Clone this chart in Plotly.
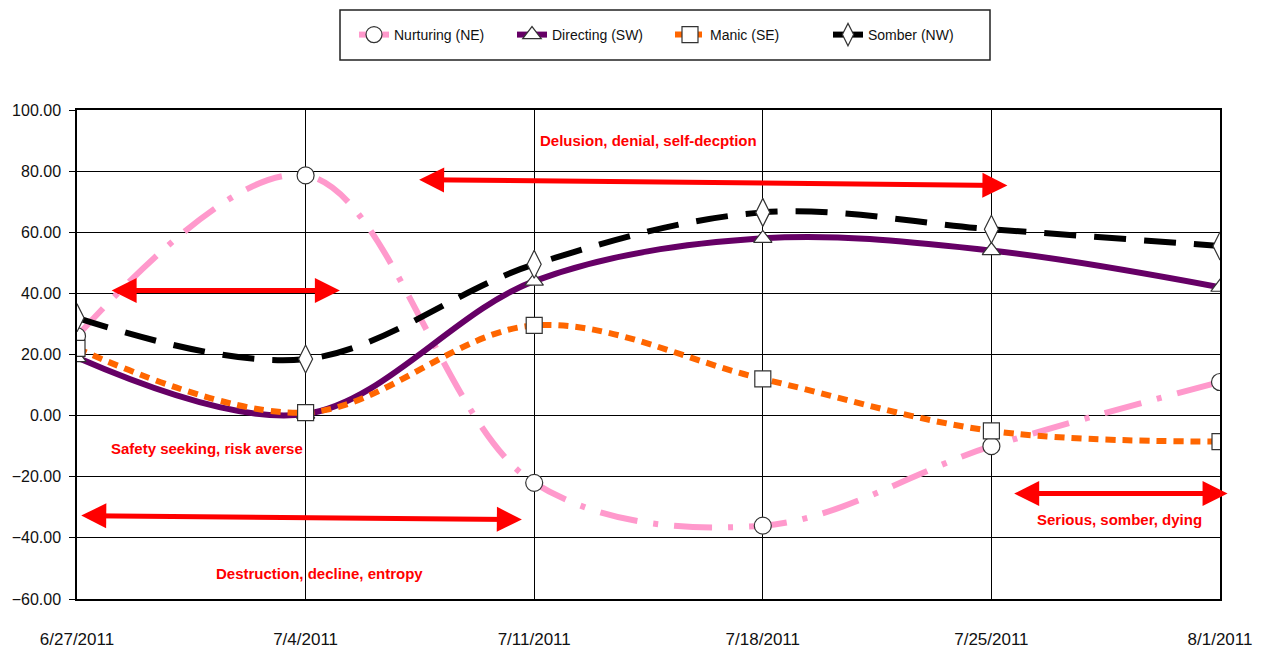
import plotly.graph_objects as go

# ---- data ----
dates = ["6/27/2011", "7/4/2011", "7/11/2011", "7/18/2011", "7/25/2011", "8/1/2011"]
nurturing = [26, 78.6, -22, -36, -10, 11]
directing = [19, 0.5, 44, 58, 54, 42]
manic = [22, 1, 29.5, 12, -5, -8.5]
somber = [32, 18.5, 49.5, 66.5, 61, 55.5]
y_ticks = [-60, -40, -20, 0, 20, 40, 60, 80, 100]

series_names = ["Nurturing (NE)", "Directing (SW)", "Manic (SE)", "Somber (NW)"]

# annotation texts and positions (x as category index, y in data units)
labels = [
    ("Delusion, denial, self-decption", 2.50, 90),
    ("Safety seeking, risk averse", 0.57, -10.8),
    ("Destruction, decline, entropy", 1.06, -51.7),
    ("Serious, somber, dying", 4.56, -33.9),
]
# double arrows: (x_start, y_start, x_end, y_end)
arrows = [
    (0.145, 40.9, 1.15, 40.9),
    (1.49, 77.2, 4.07, 75.3),
    (0.012, -32.7, 1.946, -34.0),
    (4.093, -25.5, 5.033, -25.5),
]

FONT = "Liberation Sans, Arial, sans-serif"

fig = go.Figure()

styles = [
    (nurturing, "#FF99CC", "38px,16px,5px,16px", "circle", 17),
    (directing, "#660066", "solid", "triangle-up", 16),
    (manic, "#FF6600", "10px,7px", "square", 16),
    (somber, "#000000", "32px,18px", "diamond-tall", 20),
]
for name, (vals, color, dash, sym, msize) in zip(series_names, styles):
    fig.add_trace(go.Scatter(
        x=dates, y=vals, name=name, mode="lines+markers",
        line=dict(color=color, width=6, dash=dash, shape="spline", smoothing=1),
        marker=dict(symbol=sym, size=msize, color="white",
                    line=dict(color="#333333", width=1.2)),
    ))

for text, x, y in labels:
    fig.add_annotation(x=x, y=y, xref="x", yref="y", text="<b>" + text + "</b>", showarrow=False,
                       font=dict(family=FONT, size=15, color="#FF0000"),
                       xanchor="center", yanchor="middle")

for x0, y0, x1, y1 in arrows:
    fig.add_annotation(x=x1, y=y1, ax=x0, ay=y0, xref="x", yref="y", axref="x", ayref="y",
                       text="", showarrow=True, arrowhead=2, arrowside="end+start",
                       arrowsize=1.0, arrowwidth=5, arrowcolor="#FF0000")

# figure size accounts for the 8px page margin of the html body
W, H = 1246, 642
L, R, T, B = 69, 34, 102, 51
pw, ph = W - L - R, H - T - B
def px_to_paper(px, py):
    return (px - L) / pw, (H - B - py) / ph

lx0, ly0 = px_to_paper(332, 52)
lx1, ly1 = px_to_paper(982, 2)
fig.add_shape(type="rect", xref="paper", yref="paper", x0=lx0, y0=ly0, x1=lx1, y1=ly1,
              line=dict(color="#222222", width=1.5), fillcolor="white", layer="below")

lgx, lgy = px_to_paper(662, 27)
fig.update_layout(
    width=W, height=H,
    margin=dict(l=L, r=R, t=T, b=B, pad=0, autoexpand=False),
    paper_bgcolor="white", plot_bgcolor="white",
    font=dict(family=FONT, color="#111111"),
    showlegend=True,
    legend=dict(orientation="h", x=lgx, y=lgy, xanchor="center", yanchor="middle",
                bgcolor="rgba(0,0,0,0)", borderwidth=0,
                font=dict(family=FONT, size=14, color="#111111"),
                itemwidth=30, entrywidth=113, entrywidthmode="pixels"),
    xaxis=dict(type="category", range=[0, 5], showgrid=True, gridcolor="#000000", gridwidth=1,
               showline=True, linecolor="#000000", linewidth=1.5, mirror=True,
               ticks="", ticklabelstandoff=24, automargin=False,
               tickfont=dict(family=FONT, size=17, color="#111111"), zeroline=False),
    yaxis=dict(range=[-60, 100], tickvals=y_ticks, tickformat=".2f",
               showgrid=True, gridcolor="#000000", gridwidth=1,
               zeroline=True, zerolinecolor="#000000", zerolinewidth=1,
               showline=True, linecolor="#000000", linewidth=1.5, mirror=True,
               ticks="outside", ticklen=6, tickcolor="#000000", ticklabelstandoff=5,
               automargin=False,
               tickfont=dict(family=FONT, size=16, color="#111111")),
)

fig.write_html("out.html")
